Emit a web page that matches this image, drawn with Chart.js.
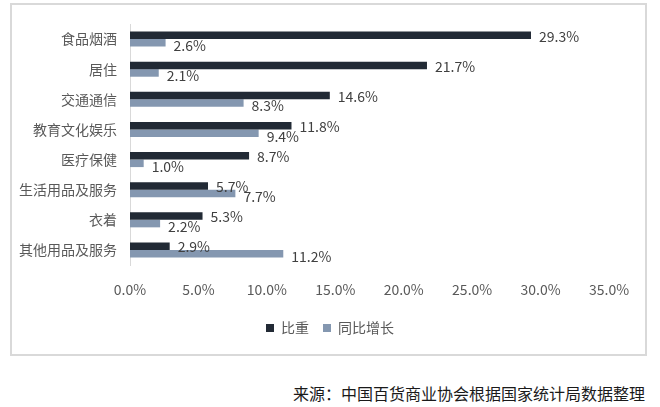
<!DOCTYPE html>
<html>
<head>
<meta charset="utf-8">
<script src="https://cdn.jsdelivr.net/npm/chart.js@4"></script>
<style>
  html, body { margin: 0; padding: 0; background: #fff; }
  body { width: 660px; height: 407px; position: relative; overflow: hidden; font-family: "Noto Sans CJK SC", sans-serif; }
  #frame { position: absolute; left: 10px; top: 3px; width: 633px; height: 349px; border: 2px solid #d9d9d9; }
  #wrap { position: absolute; left: 0; top: 0; width: 660px; height: 360px; }
  #source { position: absolute; right: 15px; top: 381px; font-size: 16px; color: #1a1a1a; }
</style>
</head>
<body>
<div id="frame"></div>
<div id="wrap"><canvas id="chart" width="660" height="360"></canvas></div>
<div id="source">来源：中国百货商业协会根据国家统计局数据整理</div>
<script>
// category labels and the two series
const categories = ["食品烟酒", "居住", "交通通信", "教育文化娱乐", "医疗保健", "生活用品及服务", "衣着", "其他用品及服务"];
const shareValues = [29.3, 21.7, 14.6, 11.8, 8.7, 5.7, 5.3, 2.9];   // 比重
const growthValues = [2.6, 2.1, 8.3, 9.4, 1.0, 7.7, 2.2, 11.2];    // 同比增长
const seriesNames = ["比重", "同比增长"];
const xTicks = [0, 5, 10, 15, 20, 25, 30, 35];

const fontFamily = '"Noto Sans CJK SC", sans-serif';

// draws the value labels just past the end of each bar
const barLabels = {
  id: 'barLabels',
  afterDatasetsDraw(chart) {
    const ctx = chart.ctx;
    ctx.save();
    ctx.font = '14px ' + fontFamily;
    ctx.fillStyle = '#404040';
    ctx.textBaseline = 'middle';
    ctx.textAlign = 'left';
    chart.data.datasets.forEach((ds, i) => {
      chart.getDatasetMeta(i).data.forEach((bar, j) => {
        ctx.fillText(ds.data[j].toFixed(1) + '%', bar.x + 8, bar.y + (i === 1 ? 3 : 1));
      });
    });
    ctx.restore();
  }
};

new Chart(document.getElementById('chart'), {
  type: 'bar',
  data: {
    labels: categories,
    datasets: [
      { label: seriesNames[0], data: shareValues, backgroundColor: '#222a35', barPercentage: 1, categoryPercentage: 0.5 },
      { label: seriesNames[1], data: growthValues, backgroundColor: '#8497b0', barPercentage: 1, categoryPercentage: 0.5 }
    ]
  },
  options: {
    indexAxis: 'y',
    responsive: false,
    animation: false,
    layout: { padding: { left: 0, right: 0, top: 24, bottom: 15 } },
    plugins: {
      legend: {
        position: 'bottom',
        labels: {
          boxWidth: 8, boxHeight: 8, padding: 14,
          color: '#595959',
          font: { family: fontFamily, size: 14 }
        }
      },
      tooltip: { enabled: false }
    },
    scales: {
      x: {
        min: 0, max: 35,
        afterBuildTicks: s => { s.ticks = xTicks.map(v => ({ value: v })); },
        afterFit: s => { s.height = 42; },
        grid: { display: false, drawTicks: false },
        border: { display: false },
        ticks: {
          padding: 16,
          color: '#595959',
          font: { family: fontFamily, size: 14 },
          callback: v => v.toFixed(1) + '%'
        }
      },
      y: {
        afterFit: s => { s.width = 130; },
        grid: { display: false, drawTicks: false },
        border: { display: true, color: '#d9d9d9', width: 1 },
        ticks: {
          padding: 13,
          color: '#595959',
          font: { family: fontFamily, size: 14 }
        }
      },
      // empty right-hand axis, only reserves the space right of the plot
      yRight: {
        type: 'category',
        axis: 'y',
        position: 'right',
        afterFit: s => { s.width = 51; },
        grid: { display: false, drawTicks: false },
        border: { display: false },
        ticks: { display: false }
      }
    }
  },
  plugins: [barLabels]
});
</script>
</body>
</html>
